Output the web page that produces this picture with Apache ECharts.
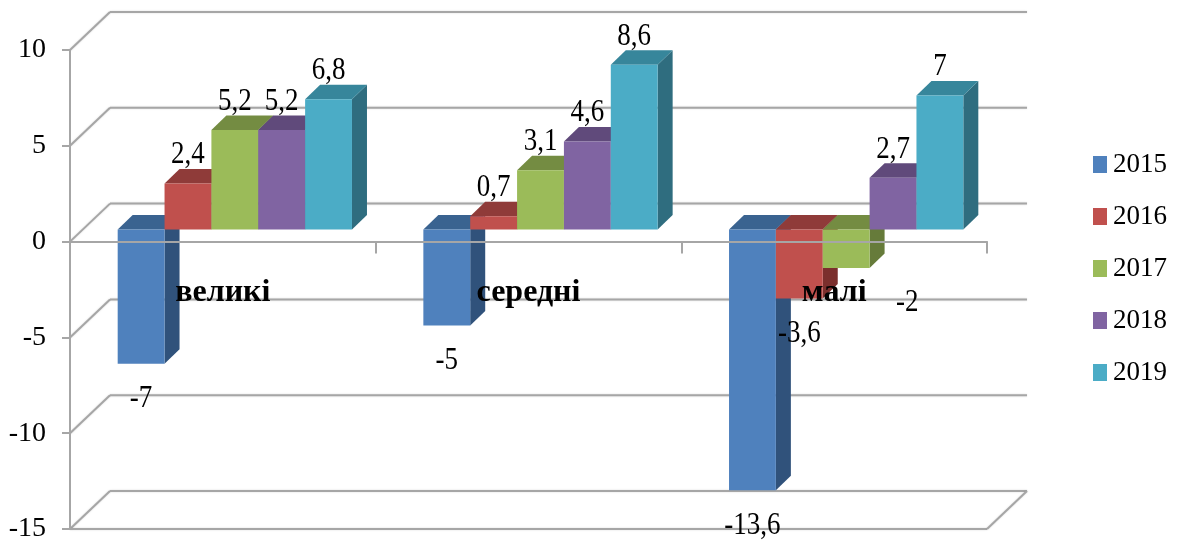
<!DOCTYPE html>
<html>
<head>
<meta charset="utf-8">
<style>html,body{margin:0;padding:0;background:#fff}#chart{width:1179px;height:544px}</style>
<script src="https://cdn.jsdelivr.net/npm/echarts@6/dist/echarts.min.js"></script>
</head>
<body>
<div id="chart"></div>
<script>
// Company size groups and yearly change values
const categories = ['великі', 'середні', 'малі'];
const years = ['2015', '2016', '2017', '2018', '2019'];
const values2015 = [-7, -5, -13.6];
const values2016 = [2.4, 0.7, -3.6];
const values2017 = [5.2, 3.1, -2];
const values2018 = [5.2, 4.6, 2.7];
const values2019 = [6.8, 8.6, 7];
const yTicks = [-15, -10, -5, 0, 5, 10];

const seriesValues = [values2015, values2016, values2017, values2018, values2019];
const frontColors = ['#4F81BD', '#C0504D', '#9BBB59', '#8064A2', '#4BACC6'];
const topColors = ['#3A6390', '#8F3B39', '#748C42', '#604A7B', '#37869B'];
const sideColors = ['#30527B', '#7B2F2D', '#667B3A', '#54406D', '#2F6D7F'];

const FONT = '"Liberation Serif", "Times New Roman", serif';
const GRID_COLOR = '#A6A6A6';
// Pseudo-3D projection, in pixels
const WALL_DX = 40, WALL_DY = 38;   // front plane to back wall
const BAR_DX = 12, BAR_DY = 12;     // front plane to bars' front faces
const BAR_DEPTH_X = 15, BAR_DEPTH_Y = 14.5;
const BAR_BAND_RATIO = 0.1533;
const LABEL_ABOVE = 14, LABEL_BELOW = 35;
const LABEL_STRETCH = 1.18;         // tall, narrow serif digits
// The 2017 label of the last group sits off to the right of its bar
const movedLabel = { series: 2, category: 2, dx: 61 };

function wallItem(params, api) {
  const v = api.value(1);
  const y = api.coord([0, v])[1];
  const cs = params.coordSys;
  const lineStyle = { stroke: GRID_COLOR, lineWidth: 2, shadowBlur: 2, shadowColor: 'rgba(0,0,0,0.15)' };
  const left = cs.x, right = cs.x + cs.width;
  const children = [
    { type: 'line', shape: { x1: left, y1: y, x2: left + WALL_DX, y2: y - WALL_DY }, style: lineStyle },
    { type: 'line', shape: { x1: left + WALL_DX, y1: y - WALL_DY, x2: right + WALL_DX, y2: y - WALL_DY }, style: lineStyle }
  ];
  if (v === yTicks[0]) {
    children.push(
      { type: 'line', shape: { x1: left, y1: y, x2: right, y2: y }, style: lineStyle },
      { type: 'line', shape: { x1: right, y1: y, x2: right + WALL_DX, y2: y - WALL_DY }, style: lineStyle }
    );
  }
  return { type: 'group', children };
}

function barItem(params, api) {
  const s = params.seriesIndex - 1;
  const cat = api.value(0), v = api.value(1);
  const center = api.coord([cat, 0]);
  const band = api.size([1, 0])[0];
  const w = band * BAR_BAND_RATIO;
  const x0 = center[0] + BAR_DX + (s - 2.5) * w;
  const x1 = x0 + w;
  const zeroY = center[1] - BAR_DY;
  const valueY = api.coord([cat, v])[1] - BAR_DY;
  const topY = Math.min(zeroY, valueY), botY = Math.max(zeroY, valueY);
  const dx = BAR_DEPTH_X, dy = BAR_DEPTH_Y;

  const moved = movedLabel.series === s && movedLabel.category === cat;
  const labelX = (x0 + x1) / 2 + (moved ? movedLabel.dx : 0);
  const labelY = v >= 0 ? topY - dy - LABEL_ABOVE : botY + LABEL_BELOW;

  return {
    type: 'group',
    children: [
      { type: 'polygon', shape: { points: [[x1, topY], [x1 + dx, topY - dy], [x1 + dx, botY - dy], [x1, botY]] }, style: { fill: sideColors[s] } },
      { type: 'polygon', shape: { points: [[x0, topY], [x0 + dx, topY - dy], [x1 + dx, topY - dy], [x1, topY]] }, style: { fill: topColors[s] } },
      { type: 'rect', shape: { x: x0, y: topY, width: w, height: botY - topY }, style: { fill: frontColors[s] } },
      {
        type: 'text', z2: 100, x: labelX, y: labelY, scaleY: LABEL_STRETCH,
        style: {
          x: 0, y: 0, text: String(v).replace('.', ','),
          font: '27px ' + FONT, fill: '#000', align: 'center', verticalAlign: 'middle'
        }
      }
    ]
  };
}

const barSeries = years.map((year, s) => ({
  name: year,
  type: 'custom',
  coordinateSystem: 'cartesian2d',
  renderItem: barItem,
  itemStyle: { color: frontColors[s] },
  encode: { x: 0, y: 1 },
  data: seriesValues[s].map((v, i) => [i, v]),
  z: 3
}));

const chart = echarts.init(document.getElementById('chart'), null, { renderer: 'canvas' });
chart.setOption({
  animation: false,
  backgroundColor: '#fff',
  grid: { left: 70, top: 50, width: 917, height: 479, outerBoundsMode: 'none' },
  legend: {
    data: years,
    orient: 'vertical',
    left: 1088,
    top: 146,
    icon: 'rect',
    itemWidth: 14,
    itemHeight: 17,
    itemGap: 25,
    selectedMode: false,
    textStyle: { fontFamily: FONT, fontSize: 27, color: '#000', padding: [0, 0, 0, 1] }
  },
  xAxis: {
    type: 'category',
    data: categories,
    z: 10,
    axisLine: { onZero: true, lineStyle: { color: GRID_COLOR, width: 2 } },
    axisTick: { show: true, alignWithLabel: false, length: 12, lineStyle: { color: GRID_COLOR, width: 2 } },
    // Group names sit just under the zero line, measured up from the plot's bottom edge
    axisLabel: { margin: -252, fontFamily: FONT, fontSize: 32, fontWeight: 'bold', color: '#000', interval: 0 },
    splitLine: { show: false }
  },
  yAxis: {
    type: 'value',
    min: -15,
    max: 10,
    interval: 5,
    z: 10,
    axisLine: { show: true, onZero: false, lineStyle: { color: GRID_COLOR, width: 2 } },
    axisTick: { show: true, length: 8, lineStyle: { color: GRID_COLOR, width: 2 } },
    axisLabel: { margin: 24, fontFamily: FONT, fontSize: 28, color: '#000' },
    splitLine: { show: false }
  },
  series: [
    {
      name: 'wall',
      type: 'custom',
      coordinateSystem: 'cartesian2d',
      renderItem: wallItem,
      encode: { x: 0, y: 1 },
      data: yTicks.map(v => [0, v]),
      silent: true,
      z: 1
    }
  ].concat(barSeries)
});
</script>
</body>
</html>
